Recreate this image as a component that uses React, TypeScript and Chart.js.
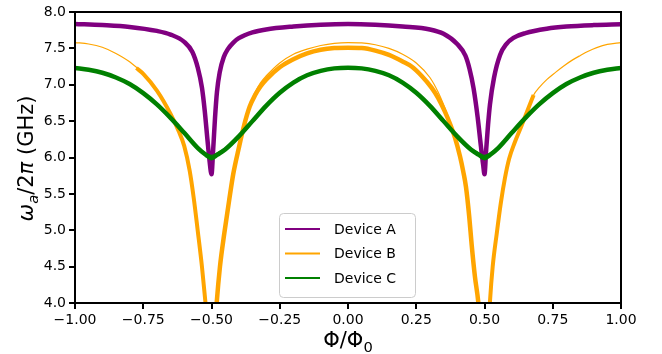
import React, { useEffect, useRef } from "react";
import { Chart, registerables } from "chart.js";

Chart.register(...registerables);

// ---- Data ----
const deviceAX = [-1, -0.9, -0.8, -0.7, -0.65, -0.6, -0.57, -0.55, -0.535, -0.525, -0.515, -0.507, -0.5, -0.494, -0.487, -0.48, -0.47, -0.455, -0.44, -0.42, -0.4, -0.35, -0.3, -0.2, -0.1, 0, 0.1, 0.2, 0.3, 0.35, 0.4, 0.43, 0.445, 0.46, 0.475, 0.487, 0.495, 0.5, 0.506, 0.513, 0.52, 0.535, 0.557, 0.58, 0.606, 0.65, 0.728, 0.8, 0.9, 1];
const deviceAY = [7.835, 7.82, 7.795, 7.74, 7.69, 7.59, 7.45, 7.23, 6.96, 6.65, 6.25, 5.95, 5.77, 6.1, 6.55, 6.9, 7.17, 7.38, 7.49, 7.58, 7.64, 7.72, 7.76, 7.8, 7.825, 7.835, 7.825, 7.8, 7.76, 7.7, 7.56, 7.4, 7.22, 6.95, 6.55, 6.15, 5.9, 5.77, 6.1, 6.45, 6.73, 7.1, 7.41, 7.56, 7.645, 7.71, 7.77, 7.8, 7.82, 7.83];

const deviceBDataLeftX = [-0.775, -0.75, -0.7, -0.65, -0.62, -0.6, -0.58, -0.565, -0.55, -0.535, -0.522, -0.512];
const deviceBDataLeftY = [7.23, 7.15, 6.92, 6.6, 6.36, 6.16, 5.82, 5.44, 4.98, 4.5, 4.0, 3.6];
const deviceBDataMidX = [-0.488, -0.481, -0.469, -0.453, -0.435, -0.42, -0.4, -0.38, -0.36, -0.34, -0.32, -0.3, -0.25, -0.2, -0.15, -0.1, -0.05, 0, 0.05, 0.1, 0.15, 0.2, 0.233, 0.27, 0.306, 0.33, 0.355, 0.375, 0.392, 0.41, 0.422, 0.432, 0.444, 0.453, 0.465, 0.477, 0.486];
const deviceBDataMidY = [3.6, 4.0, 4.5, 4.96, 5.42, 5.78, 6.13, 6.45, 6.7, 6.86, 6.98, 7.07, 7.24, 7.35, 7.43, 7.48, 7.505, 7.51, 7.505, 7.47, 7.41, 7.32, 7.25, 7.12, 6.96, 6.82, 6.63, 6.45, 6.27, 6.02, 5.81, 5.6, 5.19, 4.8, 4.36, 4.02, 3.6];
const deviceBDataRightX = [0.514, 0.52, 0.53, 0.545, 0.56, 0.575, 0.59, 0.61, 0.635, 0.66, 0.68];
const deviceBDataRightY = [3.6, 4.02, 4.5, 4.96, 5.38, 5.72, 5.98, 6.2, 6.43, 6.67, 6.86];

const deviceBFitX = [-1, -0.95, -0.9, -0.85, -0.8, -0.75, -0.7, -0.65, -0.62, -0.6, -0.58, -0.565, -0.55, -0.535, -0.522, -0.51, -0.49, -0.481, -0.469, -0.453, -0.435, -0.42, -0.4, -0.38, -0.36, -0.34, -0.32, -0.3, -0.25, -0.2, -0.15, -0.1, -0.05, 0, 0.05, 0.1, 0.15, 0.2, 0.25, 0.3, 0.33, 0.355, 0.375, 0.392, 0.41, 0.422, 0.432, 0.444, 0.453, 0.465, 0.477, 0.49, 0.51, 0.52, 0.53, 0.545, 0.56, 0.575, 0.59, 0.61, 0.635, 0.66, 0.68, 0.7, 0.728, 0.76, 0.789, 0.82, 0.85, 0.88, 0.911, 0.95, 1];
const deviceBFitY = [7.58, 7.56, 7.515, 7.43, 7.315, 7.15, 6.92, 6.6, 6.36, 6.16, 5.84, 5.44, 4.98, 4.5, 4.0, 3.4, 3.4, 4.0, 4.5, 4.96, 5.42, 5.78, 6.13, 6.46, 6.72, 6.9, 7.03, 7.12, 7.3, 7.42, 7.49, 7.54, 7.57, 7.58, 7.575, 7.55, 7.5, 7.42, 7.3, 7.1, 6.9, 6.68, 6.47, 6.27, 6.02, 5.81, 5.6, 5.19, 4.8, 4.36, 4.0, 3.4, 3.4, 4.02, 4.5, 4.96, 5.38, 5.72, 5.98, 6.2, 6.43, 6.67, 6.86, 6.96, 7.07, 7.17, 7.255, 7.335, 7.4, 7.46, 7.51, 7.555, 7.58];

const deviceCX = [-1, -0.95, -0.9, -0.85, -0.8, -0.75, -0.7, -0.65, -0.6, -0.55, -0.52, -0.5, -0.48, -0.45, -0.4, -0.35, -0.3, -0.25, -0.2, -0.15, -0.1, -0.05, 0, 0.05, 0.1, 0.15, 0.2, 0.25, 0.3, 0.35, 0.4, 0.45, 0.48, 0.5, 0.52, 0.55, 0.6, 0.65, 0.7, 0.75, 0.8, 0.85, 0.9, 0.95, 1];
const deviceCY = [7.23, 7.205, 7.165, 7.1, 7.01, 6.885, 6.73, 6.545, 6.34, 6.13, 6.035, 5.99, 6.035, 6.11, 6.29, 6.5, 6.71, 6.89, 7.03, 7.13, 7.19, 7.225, 7.235, 7.225, 7.19, 7.13, 7.03, 6.89, 6.71, 6.5, 6.29, 6.11, 6.035, 5.99, 6.035, 6.13, 6.34, 6.545, 6.73, 6.885, 7.01, 7.1, 7.165, 7.205, 7.23];
const deviceCFitY = [7.23, 7.205, 7.165, 7.1, 7.0, 6.875, 6.715, 6.525, 6.325, 6.14, 6.06, 6.03, 6.06, 6.13, 6.28, 6.48, 6.69, 6.875, 7.02, 7.13, 7.19, 7.225, 7.235, 7.225, 7.19, 7.13, 7.02, 6.875, 6.69, 6.48, 6.28, 6.13, 6.06, 6.03, 6.06, 6.14, 6.325, 6.525, 6.715, 6.875, 7.0, 7.1, 7.165, 7.205, 7.23];

const legendLabels = ["Device A", "Device B", "Device C"];
const xTicks = { min: -1, max: 1, step: 0.25 };
const yTicks = { min: 4, max: 8, step: 0.5 };

const PURPLE = "#800080";
const ORANGE = "#FFA500";
const GREEN = "#008000";
const legendColors = [PURPLE, ORANGE, GREEN];

const FONT = "'DejaVu Sans', Verdana, sans-serif";

const toXY = (xs: number[], ys: number[]) => xs.map((x, i) => ({ x, y: ys[i] }));

type Piece = { t: string; i?: boolean; sub?: boolean };

function drawRich(ctx: CanvasRenderingContext2D, pieces: Piece[], size: number) {
  const fontOf = (p: Piece) => `${p.i ? "oblique " : ""}${p.sub ? size * 0.7 : size}px ${FONT}`;
  let total = 0;
  const widths = pieces.map((p) => {
    ctx.font = fontOf(p);
    const w = ctx.measureText(p.t).width;
    total += w;
    return w;
  });
  let x = -total / 2;
  ctx.textBaseline = "alphabetic";
  ctx.textAlign = "left";
  pieces.forEach((p, k) => {
    ctx.font = fontOf(p);
    ctx.fillText(p.t, x, p.sub ? size * 0.22 : 0);
    x += widths[k];
  });
}

const decorPlugin = {
  id: "decor",
  afterDatasetsDraw(chart: any) {
    const { ctx, chartArea: a } = chart;
    ctx.save();
    ctx.strokeStyle = "#000";
    ctx.lineWidth = 2;
    ctx.strokeRect(a.left, a.top, a.right - a.left, a.bottom - a.top);
    ctx.restore();
  },
  afterDraw(chart: any) {
    const { ctx, chartArea: a } = chart;
    ctx.save();
    ctx.fillStyle = "#000";
    // y axis title
    ctx.save();
    ctx.translate(33, (a.top + a.bottom) / 2 + 1);
    ctx.rotate(-Math.PI / 2);
    drawRich(
      ctx,
      [{ t: "ω", i: true }, { t: "a", i: true, sub: true }, { t: "/2" }, { t: "π", i: true }, { t: " (GHz)" }],
      21
    );
    ctx.restore();
    // x axis title
    ctx.save();
    ctx.translate((a.left + a.right) / 2, 347);
    drawRich(ctx, [{ t: "Φ/Φ" }, { t: "0", sub: true }], 21);
    ctx.restore();

    // legend
    const bx = 279.5, by = 213.5, bw = 136, bh = 84, r = 4;
    ctx.beginPath();
    ctx.moveTo(bx + r, by);
    ctx.lineTo(bx + bw - r, by);
    ctx.quadraticCurveTo(bx + bw, by, bx + bw, by + r);
    ctx.lineTo(bx + bw, by + bh - r);
    ctx.quadraticCurveTo(bx + bw, by + bh, bx + bw - r, by + bh);
    ctx.lineTo(bx + r, by + bh);
    ctx.quadraticCurveTo(bx, by + bh, bx, by + bh - r);
    ctx.lineTo(bx, by + r);
    ctx.quadraticCurveTo(bx, by, bx + r, by);
    ctx.closePath();
    ctx.fillStyle = "rgba(255,255,255,0.8)";
    ctx.fill();
    ctx.strokeStyle = "#cccccc";
    ctx.lineWidth = 1;
    ctx.stroke();
    const rows = [229, 253.5, 278];
    legendLabels.forEach((lab, k) => {
      ctx.strokeStyle = legendColors[k];
      ctx.lineWidth = 2;
      ctx.beginPath();
      ctx.moveTo(285, rows[k]);
      ctx.lineTo(320, rows[k]);
      ctx.stroke();
      ctx.fillStyle = "#000";
      ctx.font = `14px ${FONT}`;
      ctx.textAlign = "left";
      ctx.textBaseline = "middle";
      ctx.fillText(lab, 334, rows[k] + 1);
    });
    ctx.restore();
  },
};

export default function App() {
  const ref = useRef<HTMLCanvasElement | null>(null);
  useEffect(() => {
    if (!ref.current) return;
    const dataLine = (data: any, color: string, order: number, width = 5) => ({
      data,
      borderColor: color,
      backgroundColor: color,
      borderWidth: width,
      pointRadius: 0,
      cubicInterpolationMode: "monotone" as const,
      clip: 0,
      order,
    });
    const fitLine = (data: any, color: string, order: number) => ({
      data,
      borderColor: color,
      backgroundColor: color,
      borderWidth: 1.2,
      pointRadius: 0,
      cubicInterpolationMode: "monotone" as const,
      clip: 0,
      order,
    });
    const chart = new Chart(ref.current, {
      type: "line",
      data: {
        datasets: [
          dataLine(toXY(deviceAX, deviceAY), PURPLE, 6, 4.5),
          fitLine(toXY(deviceAX, deviceAY), PURPLE, 5),
          dataLine(toXY(deviceBDataLeftX, deviceBDataLeftY), ORANGE, 4, 4),
          dataLine(toXY(deviceBDataMidX, deviceBDataMidY), ORANGE, 4, 4.5),
          dataLine(toXY(deviceBDataRightX, deviceBDataRightY), ORANGE, 4, 4),
          fitLine(toXY(deviceBFitX, deviceBFitY), ORANGE, 3),
          dataLine(toXY(deviceCX, deviceCY), GREEN, 2, 4.5),
          fitLine(toXY(deviceCX, deviceCFitY), GREEN, 1),
        ],
      },
      options: {
        animation: false,
        responsive: false,
        devicePixelRatio: 1,
        events: [],
        layout: { padding: { left: 0, top: 12, right: 41, bottom: 0 } },
        plugins: { legend: { display: false }, tooltip: { enabled: false } },
        scales: {
          x: {
            type: "linear",
            min: xTicks.min,
            max: xTicks.max,
            afterFit: (s: any) => {
              s.height = 51;
            },
            grid: { drawOnChartArea: false, drawTicks: true, tickLength: 6, color: "#000", lineWidth: 2 },
            border: { display: true, color: "#000", width: 2 },
            ticks: {
              stepSize: xTicks.step,
              padding: 3,
              color: "#000",
              maxRotation: 0,
              font: { family: FONT, size: 14 },
              callback: (v: any) => Number(v).toFixed(2).replace("-", "\u2212"),
            },
          },
          y: {
            type: "linear",
            min: yTicks.min,
            max: yTicks.max,
            afterFit: (s: any) => {
              s.width = 75;
            },
            grid: { drawOnChartArea: false, drawTicks: true, tickLength: 6, color: "#000", lineWidth: 2 },
            border: { display: true, color: "#000", width: 2 },
            ticks: {
              stepSize: yTicks.step,
              padding: 3,
              color: "#000",
              font: { family: FONT, size: 14 },
              callback: (v: any) => Number(v).toFixed(1),
            },
          },
        },
      },
      plugins: [decorPlugin],
    });
    return () => chart.destroy();
  }, []);
  return (
    <div style={{ position: "absolute", left: 0, top: 0, width: 662, height: 354, background: "#fff" }}>
      <canvas ref={ref} width={662} height={354} style={{ width: 662, height: 354, display: "block" }} />
    </div>
  );
}
